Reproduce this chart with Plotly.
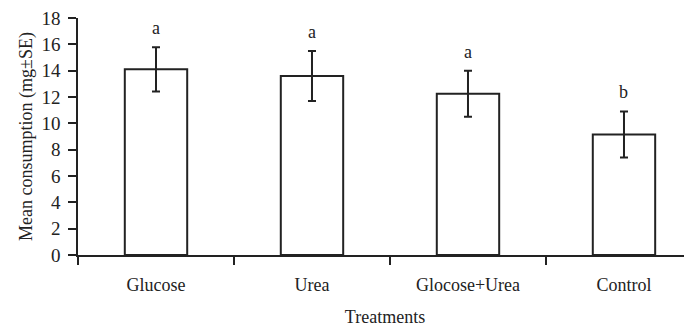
import plotly.graph_objects as go

categories = ["Glucose", "Urea", "Glocose+Urea", "Control"]
means = [14.1, 13.6, 12.25, 9.15]
se = [1.68, 1.9, 1.75, 1.75]
letters = ["a", "a", "a", "b"]
y_ticks = [0, 2, 4, 6, 8, 10, 12, 14, 16, 18]

font = "Liberation Serif"
ink = "#222222"

fig = go.Figure()
fig.add_trace(go.Bar(
    x=categories, y=means, width=0.4,
    marker=dict(color="white", line=dict(color=ink, width=2)),
    error_y=dict(type="data", array=se, visible=True, color=ink, thickness=2, width=4),
    showlegend=False,
))
for c, m, e, l in zip(categories, means, se, letters):
    fig.add_annotation(x=c, y=m + e, text=l, showarrow=False, yanchor="bottom",
                       yshift=7, font=dict(family=font, size=18, color=ink))

fig.update_layout(
    width=684, height=319,
    margin=dict(l=70, r=0, t=7, b=72),
    paper_bgcolor="white", plot_bgcolor="white",
    font=dict(family=font, size=18, color=ink),
    xaxis=dict(
        range=[-0.5, 3.436], showline=True, linecolor=ink, linewidth=1.5,
        ticks="outside", ticklen=8, tickwidth=1.5, tickcolor=ink, tickson="boundaries",
        showgrid=False, zeroline=False, ticklabelstandoff=13,
        title=dict(text="Treatments", font=dict(family=font, size=18), standoff=17),
        tickfont=dict(family=font, size=18),
    ),
    yaxis=dict(
        range=[0, 18], tickvals=y_ticks, showline=True, linecolor=ink, linewidth=1.5,
        ticks="outside", ticklen=8, tickwidth=1.5, tickcolor=ink,
        showgrid=False, zeroline=False, ticklabelstandoff=4, ticklabeloverflow="allow",
        title=dict(text="Mean consumption (mg±SE)", font=dict(family=font, size=18), standoff=4),
        tickfont=dict(family=font, size=19),
    ),
)

fig.write_html("out.html")
